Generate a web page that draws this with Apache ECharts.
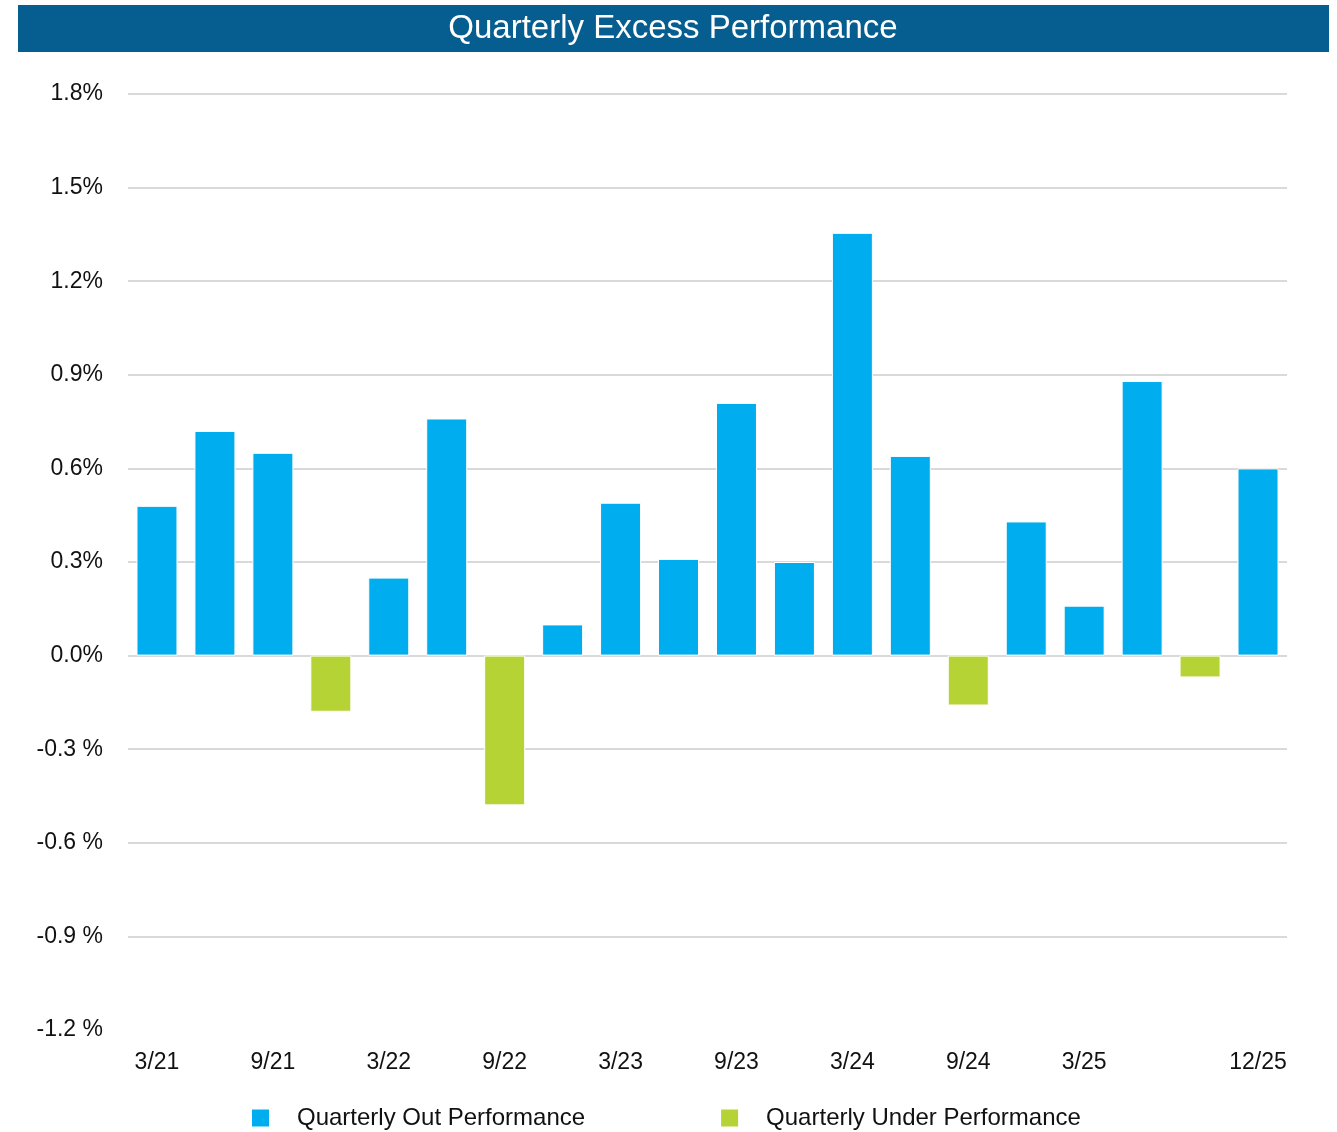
<!DOCTYPE html>
<html>
<head>
<meta charset="utf-8">
<script src="https://cdn.jsdelivr.net/npm/echarts@6/dist/echarts.min.js"></script>
<style>
  html, body { margin: 0; padding: 0; background: #fff; }
  #chart { width: 1337px; height: 1132px; }
</style>
</head>
<body>
<div id="chart"></div>
<script>
// quarters, 3/21 .. 12/25
const quarters = ['3/21', '6/21', '9/21', '12/21', '3/22', '6/22', '9/22', '12/22',
  '3/23', '6/23', '9/23', '12/23', '3/24', '6/24', '9/24', '12/24',
  '3/25', '6/25', '9/25', '12/25']
// labels that are printed under the axis
const shownLabels = ['3/21', '9/21', '3/22', '9/22', '3/23', '9/23', '3/24', '9/24', '3/25', '12/25']
// excess return per quarter, in %
const outPerf = [0.48, 0.72, 0.65, '-', 0.25, 0.76, '-', 0.10, 0.49, 0.31,
  0.81, 0.30, 1.355, 0.64, '-', 0.43, 0.16, 0.88, '-', 0.60]
const underPerf = ['-', '-', '-', -0.18, '-', '-', -0.48, '-', '-', '-',
  '-', '-', '-', '-', -0.16, '-', '-', '-', -0.07, '-']

const font = 'Liberation Sans, Arial, sans-serif'
const myChart = echarts.init(document.getElementById('chart'))

const options = {
  animation: false,
  textStyle: { fontFamily: font },
  // title band
  graphic: [
    {
      type: 'rect',
      shape: { x: 18, y: 5, width: 1311, height: 47 },
      style: { fill: '#055E8F' },
      z: 0,
    },
    {
      type: 'text',
      x: 673,
      y: 29,
      style: {
        text: 'Quarterly Excess Performance',
        fill: '#fff',
        font: '33px ' + font,
        align: 'center',
        verticalAlign: 'middle',
      },
      z: 1,
    },
  ],
  grid: {
    left: 128,
    right: 50,
    top: 94,
    bottom: 102,
  },
  legend: {
    top: 1101,
    left: 245,
    icon: 'rect',
    itemWidth: 19,
    itemHeight: 19,
    itemGap: 134,
    textStyle: {
      fontSize: 24,
      color: '#111',
      padding: [0, 0, 0, 22],
    },
  },
  xAxis: {
    type: 'category',
    data: quarters,
    axisLine: { show: false, onZero: false },
    axisTick: { show: false },
    axisLabel: {
      color: '#111',
      fontSize: 23,
      margin: 21,
      interval: (i, v) => shownLabels.includes(v),
    },
  },
  yAxis: {
    type: 'value',
    min: -1.2,
    max: 1.8,
    interval: 0.3,
    axisLine: { show: false },
    axisTick: { show: false },
    axisLabel: {
      color: '#111',
      fontSize: 23,
      margin: 25,
      formatter: (v) => {
        const s = Math.abs(v) < 1e-9 ? '0.0' : v.toFixed(1)
        return v < -1e-9 ? s + ' %' : s + '%'
      },
    },
    splitLine: {
      showMinLine: false,
      lineStyle: { color: '#D9D9D9', width: 2 },
    },
  },
  series: [
    {
      name: 'Quarterly Out Performance',
      type: 'bar',
      stack: 'perf',
      data: outPerf,
      barWidth: 41,
      itemStyle: { color: '#00AEEF', borderColor: '#fff', borderWidth: 1 },
    },
    {
      name: 'Quarterly Under Performance',
      type: 'bar',
      stack: 'perf',
      data: underPerf,
      barWidth: 41,
      itemStyle: { color: '#B5D334', borderColor: '#fff', borderWidth: 1 },
    },
  ],
}
myChart.setOption(options)
</script>
</body>
</html>
